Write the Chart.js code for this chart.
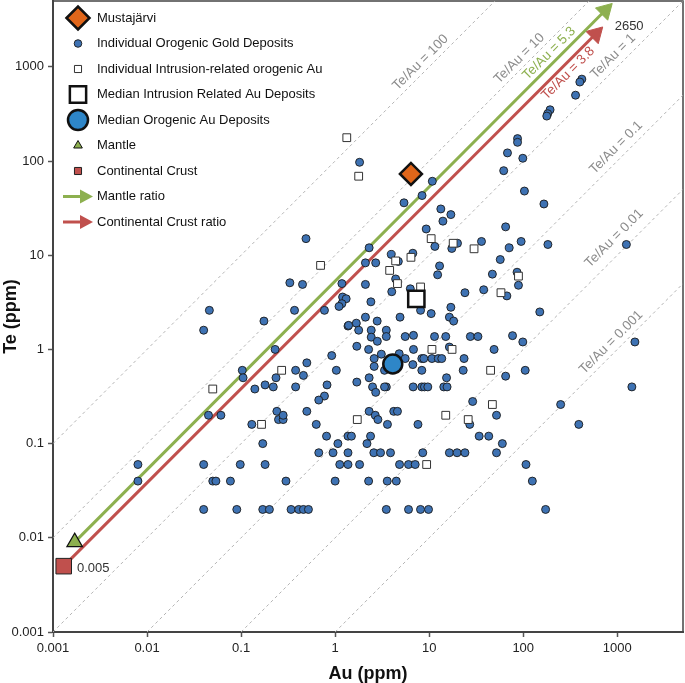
<!DOCTYPE html>
<html>
<head>
<meta charset="utf-8">
<script src="https://cdn.jsdelivr.net/npm/chart.js@4.4.0/dist/chart.umd.min.js"></script>
<style>
  body { margin: 0; background: #fff; }
  #wrap { width: 685px; height: 683px; }
</style>
</head>
<body>
<div id="wrap"><canvas id="chart" width="685" height="683"></canvas></div>
<script>
const AX_MIN = 0.001;
const AX_MAX = 5000;

const tickValues = [0.001, 0.01, 0.1, 1, 10, 100, 1000];
const tickLabels = ["0.001", "0.01", "0.1", "1", "10", "100", "1000"];

// individual orogenic gold deposits (Au ppm, Te ppm)
const auOrogenic = [
  420, 400, 360, 193, 182, 178, 87, 87, 68, 99,
  62, 103, 166, 65, 36, 95, 183, 1250, 71, 2.3,
  10.8, 8.4, 5.4, 13.3, 17, 14, 9.3, 11.5, 17.4, 20,
  1.82, 0.49, 0.04, 0.046, 0.33, 0.45, 1.18, 1.2, 1.31, 1.18,
  1.1, 1.37, 0.175, 0.37, 0.77, 0.23, 0.92, 0.103, 0.105, 0.38,
  0.5, 0.46, 1.03, 0.14, 0.18, 0.22, 0.235, 0.38, 0.82, 0.77,
  0.67, 0.045, 0.061, 0.24, 0.25, 0.28, 0.28, 0.13, 0.17, 0.5,
  0.63, 0.81, 1.07, 0.67, 0.95, 1.37, 1.37, 0.008, 0.008, 0.04,
  0.04, 0.05, 0.054, 0.077, 0.098, 0.09, 0.18, 0.17, 0.2, 0.3,
  0.34, 0.41, 0.46, 0.52, 1.0, 1.12, 1.37, 2.18, 2.58, 3.04,
  3.88, 8.55, 16.4, 19.8, 24, 52, 60, 1.82, 4.84, 6.03,
  7.1, 107, 2.27, 3.58, 4.47, 125, 3.5, 6.03, 8.09, 9.84,
  173, 3.95, 4.7, 2.1, 2.7, 4.4, 4.0, 6.3, 8.1, 10.5,
  12.9, 12.3, 24, 17, 16.4, 18.2, 38, 47, 57, 86,
  89, 67, 150, 99, 77, 49, 65, 105, 23.5, 23,
  29, 52, 34, 43, 27, 7.6, 3.6, 4.2, 4.6, 2.3,
  2.67, 2.85, 1.49, 2.38, 250, 390, 1430, 1540, 2.1, 2.4,
  2.1, 2.8, 1.39, 1.68, 1.78, 2.42, 2.42, 2.81, 3.5, 3.5,
  4.9, 5.56, 6.81, 11.4, 15, 27.4, 33, 16.4, 1.7, 2.27,
  3.1, 2.6, 2.6, 2.3, 2.5, 2.7, 3.35, 3.5, 4.8, 5.56,
  6.81, 6.7, 8.35, 8.77, 10.7, 12.5, 13.6, 8.35, 15.3, 1.7,
  6.76, 8.35, 8.91, 9.67, 14.3, 15.5, 3.35, 6.7
];
const teOrogenic = [
  740, 690, 500, 350, 318, 300, 173, 158, 122, 107,
  79, 48, 35, 20, 14, 14, 13, 13, 12, 12,
  61, 43, 36, 31, 27, 23, 19, 12.4, 11.8, 13.4,
  97, 15, 1.6, 2.6, 5.1, 4.9, 5.0, 3.6, 3.45, 3.06,
  2.86, 1.77, 2.0, 2.6, 2.6, 1.0, 0.86, 0.6, 0.5, 0.6,
  0.72, 0.53, 0.6, 0.38, 0.42, 0.4, 0.5, 0.4, 0.42, 0.32,
  0.29, 0.2, 0.2, 0.22, 0.18, 0.18, 0.2, 0.16, 0.1, 0.22,
  0.16, 0.12, 0.1, 0.08, 0.08, 0.08, 0.12, 0.06, 0.04, 0.06,
  0.02, 0.04, 0.04, 0.04, 0.06, 0.02, 0.06, 0.02, 0.02, 0.04,
  0.02, 0.02, 0.02, 0.02, 0.04, 0.06, 0.06, 0.1, 0.08, 0.08,
  0.08, 0.08, 0.08, 0.08, 0.08, 0.08, 0.1, 0.06, 0.06, 0.06,
  0.06, 0.06, 0.04, 0.04, 0.04, 0.04, 0.02, 0.02, 0.02, 0.02,
  0.02, 10.2, 8.6, 8.3, 8.3, 5.6, 4.1, 4.4, 2.6, 2.4,
  7.7, 6.2, 4.0, 2.8, 2.2, 2.0, 4.3, 6.3, 9.0, 6.6,
  4.8, 3.7, 2.5, 1.2, 1.4, 1.0, 0.52, 0.6, 0.8, 0.6,
  0.28, 0.2, 0.12, 0.12, 0.16, 0.16, 0.16, 0.22, 0.22, 0.22,
  0.2, 0.18, 0.12, 0.12, 0.26, 0.16, 0.4, 1.2, 4.9, 3.2,
  2.2, 2.0, 1.8, 1.9, 1.6, 1.6, 1.35, 1.22, 1.6, 1.37,
  2.2, 1.37, 1.41, 1.37, 1.37, 1.37, 1.37, 1.06, 1.08, 1.0,
  0.89, 0.8, 0.66, 0.5, 0.4, 0.35, 0.6, 0.4, 0.9, 0.8,
  1.0, 0.69, 0.8, 0.8, 0.8, 0.8, 0.8, 0.6, 0.5, 0.45,
  0.4, 0.4, 0.4, 0.4, 0.4, 0.4, 0.4, 10.5
];

// individual intrusion-related orogenic Au
const auIntrusion = [1.33, 1.78, 10.5, 18, 30, 0.7, 0.05, 0.27, 0.165, 9.4,
  4.4, 6.4, 3.8, 4.6, 8.1, 89, 58, 45, 47, 26, 15, 1.72, 10.7, 17.5];
const teIntrusion = [177, 69, 15, 13.4, 11.7, 7.8, 0.38, 0.6, 0.16, 0.06,
  8.7, 9.5, 6.9, 5.0, 4.6, 6.0, 4.0, 0.6, 0.26, 0.18, 0.2, 0.18, 1.0, 1.0];

const mustajarviAu = [6.4];
const mustajarviTe = [73];
const medianIntrusionAu = [7.3];
const medianIntrusionTe = [3.45];
const medianOrogenicAu = [4.1];
const medianOrogenicTe = [0.7];
const mantleAu = [0.0017];
const mantleTe = [0.009];
const crustAu = [0.0013];
const crustTe = [0.005];

// ratio arrows: start at reservoir, end at arrow head
const mantleArrowAu = [0.0017, 743];
const mantleArrowTe = [0.009, 3960];
const crustArrowAu = [0.0013, 589];
const crustArrowTe = [0.005, 2230];

const ratioValues = [100, 10, 1, 0.1, 0.01, 0.001];

const GREEN = "#8db04f";
const RED = "#c0504d";
const FONT = '"Liberation Sans", Arial, Helvetica, sans-serif';

Chart.defaults.font.family = FONT;

const toPoints = (xs, ys) => xs.map((x, i) => ({ x: x, y: ys[i] }));

const datasets = [];

ratioValues.forEach(r => {
  const x0 = Math.max(AX_MIN, AX_MIN / r);
  const x1 = Math.min(AX_MAX, AX_MAX / r);
  datasets.push({
    data: [{ x: x0, y: x0 * r }, { x: x1, y: x1 * r }],
    showLine: true,
    borderColor: "#b4b4b4",
    borderWidth: 1,
    borderDash: [3, 3],
    pointRadius: 0,
    order: 10
  });
});

datasets.push({
  data: toPoints(mantleArrowAu, mantleArrowTe),
  showLine: true,
  borderColor: GREEN,
  borderWidth: 3,
  pointRadius: [0, 10],
  pointStyle: "triangle",
  rotation: 45,
  pointBackgroundColor: GREEN,
  pointBorderColor: GREEN,
  pointBorderWidth: 1,
  order: 7
});
datasets.push({
  data: toPoints(crustArrowAu, crustArrowTe),
  showLine: true,
  borderColor: RED,
  borderWidth: 3,
  pointRadius: [0, 10],
  pointStyle: "triangle",
  rotation: 45,
  pointBackgroundColor: RED,
  pointBorderColor: RED,
  pointBorderWidth: 1,
  order: 7
});
datasets.push({
  data: toPoints(auOrogenic, teOrogenic),
  pointRadius: 4,
  pointBackgroundColor: "#3e72b3",
  pointBorderColor: "#1a1a1a",
  pointBorderWidth: 0.9,
  order: 5
});
datasets.push({
  data: toPoints(auIntrusion, teIntrusion),
  pointStyle: "rect",
  pointRadius: 5.5,
  pointBackgroundColor: "#ffffff",
  pointBorderColor: "#333333",
  pointBorderWidth: 1,
  order: 4
});
datasets.push({
  data: toPoints(medianIntrusionAu, medianIntrusionTe),
  pointStyle: "rect",
  pointRadius: 11.5,
  pointBackgroundColor: "#ffffff",
  pointBorderColor: "#111111",
  pointBorderWidth: 2.5,
  order: 3
});
datasets.push({
  data: toPoints(medianOrogenicAu, medianOrogenicTe),
  pointRadius: 9.5,
  pointBackgroundColor: "#2e86c8",
  pointBorderColor: "#111111",
  pointBorderWidth: 2.5,
  order: 3
});
datasets.push({
  data: toPoints(mantleAu, mantleTe),
  pointStyle: "triangle",
  pointRadius: 9,
  pointBackgroundColor: GREEN,
  pointBorderColor: "#111111",
  pointBorderWidth: 1.2,
  order: 2
});
datasets.push({
  data: toPoints(crustAu, crustTe),
  pointStyle: "rect",
  pointRadius: 11,
  pointBackgroundColor: RED,
  pointBorderColor: "#222222",
  pointBorderWidth: 1,
  order: 2
});
datasets.push({
  data: toPoints(mustajarviAu, mustajarviTe),
  pointStyle: "rectRot",
  pointRadius: 11,
  pointBackgroundColor: "#e0661a",
  pointBorderColor: "#111111",
  pointBorderWidth: 2.5,
  order: 1
});

// text labels along the chart (data coordinates)
const noteTexts = ["Te/Au = 100", "Te/Au = 10", "Te/Au = 5.3", "Te/Au = 3.8", "Te/Au = 1",
  "Te/Au = 0.1", "Te/Au = 0.01", "Te/Au = 0.001"];
const noteAu = [8.1, 91, 189, 301, 904, 973, 927, 861];
const noteTe = [1113, 1228, 1387, 851, 1290, 139, 15.1, 1.19];
const noteColors = ["#8c8c8c", "#8c8c8c", GREEN, RED, "#8c8c8c", "#8c8c8c", "#8c8c8c", "#8c8c8c"];

const legendItems = [
  { text: "Mustajärvi", style: "rectRot", r: 11.5, fill: "#e0661a", stroke: "#111", bw: 2.5 },
  { text: "Individual Orogenic Gold Deposits", style: "circle", r: 3.8, fill: "#3e72b3", stroke: "#1a1a1a", bw: 0.9 },
  { text: "Individual Intrusion-related orogenic Au", style: "rect", r: 5, fill: "#fff", stroke: "#333", bw: 1 },
  { text: "Median Intrusion Related Au Deposits", style: "rect", r: 11.5, fill: "#fff", stroke: "#111", bw: 2.5 },
  { text: "Median Orogenic Au Deposits", style: "circle", r: 10, fill: "#2e86c8", stroke: "#111", bw: 2.5 },
  { text: "Mantle", style: "triangle", r: 5, fill: GREEN, stroke: "#111", bw: 1 },
  { text: "Continental Crust", style: "rect", r: 5, fill: RED, stroke: "#222", bw: 1 },
  { text: "Mantle ratio", style: "arrow", fill: GREEN },
  { text: "Continental Crust ratio", style: "arrow", fill: RED }
];

const decor = {
  id: "decor",
  beforeDatasetsDraw(chart) {
    const { ctx, chartArea: a } = chart;
    ctx.save();
    ctx.strokeStyle = "#444";
    ctx.lineWidth = 1.5;
    ctx.strokeRect(a.left, a.top, a.right - a.left, a.bottom - a.top);
    ctx.restore();
  },
  afterDatasetsDraw(chart) {
    const { ctx, chartArea: a } = chart;
    const xs = chart.scales.x, ys = chart.scales.y;

    ctx.save();
    ctx.font = "13.5px " + FONT;
    ctx.textAlign = "center";
    ctx.textBaseline = "middle";
    noteTexts.forEach((t, i) => {
      const px = xs.getPixelForValue(noteAu[i]);
      const py = ys.getPixelForValue(noteTe[i]);
      ctx.save();
      ctx.translate(px, py);
      ctx.rotate(-Math.PI / 4);
      ctx.fillStyle = noteColors[i];
      ctx.fillText(t, 0, 0);
      ctx.restore();
    });

    ctx.fillStyle = "#333";
    ctx.font = "13px " + FONT;
    ctx.fillText("2650", xs.getPixelForValue(1337), ys.getPixelForValue(2685));
    ctx.textAlign = "left";
    ctx.fillText("0.005", xs.getPixelForValue(0.0018), ys.getPixelForValue(0.0047));

    // legend
    const mx = a.left + 25, tx = a.left + 44;
    ctx.font = "13px " + FONT;
    legendItems.forEach((it, i) => {
      const y = a.top + 17 + i * 25.5;
      if (it.style === "arrow") {
        ctx.strokeStyle = it.fill;
        ctx.fillStyle = it.fill;
        ctx.lineWidth = 3;
        ctx.beginPath();
        ctx.moveTo(mx - 15, y);
        ctx.lineTo(mx + 4, y);
        ctx.stroke();
        ctx.beginPath();
        ctx.moveTo(mx + 15, y);
        ctx.lineTo(mx + 2, y - 7);
        ctx.lineTo(mx + 2, y + 7);
        ctx.closePath();
        ctx.fill();
      } else {
        ctx.fillStyle = it.fill;
        ctx.strokeStyle = it.stroke;
        ctx.lineWidth = it.bw;
        Chart.helpers.drawPoint(ctx, { pointStyle: it.style, radius: it.r, rotation: 0, borderWidth: it.bw }, mx, y);
      }
      ctx.fillStyle = "#111";
      ctx.textAlign = "left";
      ctx.fillText(it.text, tx, y);
    });
    ctx.restore();
  }
};

const axisCommon = {
  type: "logarithmic",
  min: AX_MIN,
  max: AX_MAX,
  afterBuildTicks: s => { s.ticks = tickValues.map(v => ({ value: v })); },
  ticks: {
    callback: (v, i) => tickLabels[i],
    color: "#222",
    font: { size: 13 },
    autoSkip: false,
    maxRotation: 0,
    padding: 4
  },
  grid: { drawOnChartArea: false, drawTicks: true, tickLength: 5, tickColor: "#555", tickWidth: 1.5 },
  border: { display: true, color: "#444", width: 2 }
};

new Chart(document.getElementById("chart"), {
  type: "scatter",
  data: { datasets: datasets },
  options: {
    responsive: false,
    animation: false,
    layout: { autoPadding: false, padding: { top: 1, right: 2, left: 0, bottom: 0 } },
    plugins: { legend: { display: false }, tooltip: { enabled: false } },
    scales: {
      x: Object.assign({}, axisCommon, {
        afterFit: s => { s.height = 51; s.paddingLeft = 0; s.paddingRight = 0; },
        title: { display: true, text: "Au (ppm)", color: "#111", font: { size: 18, weight: "bold", lineHeight: 1 }, padding: { top: 0, bottom: 0 } }
      }),
      y: Object.assign({}, axisCommon, {
        afterFit: s => { s.width = 53; s.paddingTop = 0; s.paddingBottom = 0; },
        title: { display: true, text: "Te (ppm)", color: "#111", font: { size: 18, weight: "bold" }, padding: { top: 0, bottom: 0 } }
      })
    }
  },
  plugins: [decor]
});
</script>
</body>
</html>
